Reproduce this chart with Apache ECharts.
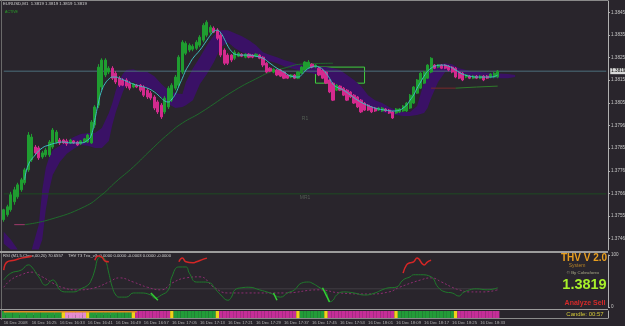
<!DOCTYPE html>
<html><head><meta charset="utf-8">
<script src="https://cdn.jsdelivr.net/npm/echarts/dist/echarts.min.js"></script>
<style>html,body{margin:0;padding:0;background:#29252c;}#c{width:625px;height:326px;}</style>
</head><body><div id="c"></div>
<script>
// ---- DATA ----
const barCount = 173; // visible bar slots (142 bars + empty right margin)
const tickLabels = ['16 Dec 2008','16 Dec 16:25','16 Dec 16:33','16 Dec 16:41','16 Dec 16:49','16 Dec 16:57','16 Dec 17:05','16 Dec 17:13','16 Dec 17:21','16 Dec 17:29','16 Dec 17:37','16 Dec 17:45','16 Dec 17:53','16 Dec 18:01','16 Dec 18:09','16 Dec 18:17','16 Dec 18:25','16 Dec 18:33'];
const priceTicks = [1.3745,1.3755,1.3765,1.3775,1.3785,1.3795,1.3805,1.3815,1.3825,1.3835,1.3845];
const priceTickLabels = ['1.3746','1.3755','1.3766','1.3776','1.3785','1.3796','1.3805','1.3815','1.3825','1.3835','1.3845'];
const currentPrice = 1.3819;
const mr1Level = 1.37648;
const r1Level = 1.37996;
const levelLabelBar = 86;
// [open, close, low, high]
const candles = [
[1.37534,1.37578,1.37525,1.37582],[1.37556,1.37591,1.37547,1.37600],[1.37578,1.37644,1.37569,1.37657],[1.37613,1.37666,1.37600,1.37679],[1.37635,1.37688,1.37626,1.37697],
[1.37666,1.37710,1.37657,1.37719],[1.37697,1.37754,1.37688,1.37763],[1.37754,1.37908,1.37745,1.37921],[1.37798,1.37899,1.37789,1.37913],[1.37855,1.37829,1.37820,1.37864],
[1.37851,1.37807,1.37798,1.37860],[1.37811,1.37829,1.37803,1.37838],[1.37820,1.37842,1.37811,1.37851],[1.37820,1.37877,1.37811,1.37886],[1.37855,1.37930,1.37847,1.37939],
[1.37877,1.37921,1.37869,1.37930],[1.37886,1.37873,1.37864,1.37895],[1.37886,1.37873,1.37869,1.37891],[1.37882,1.37869,1.37860,1.37891],[1.37873,1.37886,1.37869,1.37891],
[1.37882,1.37873,1.37869,1.37886],[1.37877,1.37864,1.37860,1.37882],[1.37869,1.37882,1.37864,1.37886],[1.37877,1.37891,1.37873,1.37895],[1.37877,1.37908,1.37873,1.37913],
[1.37873,1.37965,1.37869,1.37974],[1.37952,1.38032,1.37939,1.38040],[1.38040,1.38208,1.38027,1.38221],[1.38120,1.38239,1.38106,1.38247],[1.38173,1.38239,1.38164,1.38247],
[1.38186,1.38203,1.38177,1.38212],[1.38203,1.38159,1.38151,1.38212],[1.38181,1.38142,1.38133,1.38190],[1.38159,1.38128,1.38120,1.38168],[1.38151,1.38128,1.38124,1.38159],
[1.38151,1.38124,1.38115,1.38159],[1.38137,1.38115,1.38106,1.38146],[1.38120,1.38133,1.38115,1.38137],[1.38128,1.38120,1.38115,1.38133],[1.38128,1.38106,1.38098,1.38133],
[1.38120,1.38084,1.38076,1.38128],[1.38106,1.38076,1.38067,1.38115],[1.38093,1.38071,1.38062,1.38102],[1.38076,1.38027,1.38018,1.38084],[1.38054,1.38010,1.38001,1.38062],
[1.38040,1.37988,1.37979,1.38049],[1.38010,1.38071,1.38001,1.38080],[1.38032,1.38115,1.38023,1.38124],[1.38062,1.38128,1.38054,1.38137],[1.38115,1.38164,1.38106,1.38173],
[1.38128,1.38252,1.38120,1.38261],[1.38186,1.38318,1.38177,1.38327],[1.38269,1.38313,1.38261,1.38322],[1.38283,1.38305,1.38274,1.38313],[1.38287,1.38300,1.38278,1.38309],
[1.38291,1.38318,1.38283,1.38327],[1.38305,1.38340,1.38296,1.38349],[1.38327,1.38393,1.38318,1.38402],[1.38349,1.38406,1.38340,1.38415],[1.38362,1.38384,1.38353,1.38393],
[1.38380,1.38362,1.38358,1.38388],[1.38371,1.38335,1.38327,1.38380],[1.38349,1.38261,1.38252,1.38358],[1.38283,1.38225,1.38217,1.38291],[1.38261,1.38225,1.38217,1.38269],
[1.38261,1.38239,1.38230,1.38265],[1.38247,1.38274,1.38239,1.38283],[1.38256,1.38269,1.38252,1.38274],[1.38265,1.38256,1.38252,1.38269],[1.38252,1.38265,1.38247,1.38269],
[1.38265,1.38252,1.38247,1.38269],[1.38261,1.38252,1.38247,1.38265],[1.38256,1.38265,1.38252,1.38269],[1.38261,1.38247,1.38243,1.38265],[1.38252,1.38217,1.38208,1.38256],
[1.38225,1.38186,1.38181,1.38230],[1.38203,1.38190,1.38186,1.38208],[1.38186,1.38199,1.38181,1.38203],[1.38195,1.38173,1.38168,1.38199],[1.38195,1.38168,1.38164,1.38199],
[1.38186,1.38159,1.38155,1.38190],[1.38173,1.38159,1.38155,1.38177],[1.38164,1.38173,1.38159,1.38177],[1.38173,1.38159,1.38155,1.38177],[1.38159,1.38186,1.38155,1.38190],
[1.38181,1.38208,1.38177,1.38212],[1.38195,1.38230,1.38190,1.38234],[1.38203,1.38230,1.38199,1.38239],[1.38221,1.38208,1.38203,1.38225],[1.38208,1.38217,1.38203,1.38221],
[1.38203,1.38173,1.38168,1.38208],[1.38195,1.38159,1.38155,1.38199],[1.38186,1.38137,1.38133,1.38190],[1.38151,1.38098,1.38093,1.38155],[1.38137,1.38062,1.38058,1.38142],
[1.38106,1.38128,1.38102,1.38133],[1.38124,1.38106,1.38102,1.38128],[1.38115,1.38084,1.38080,1.38120],[1.38106,1.38062,1.38058,1.38111],[1.38098,1.38076,1.38071,1.38102],
[1.38084,1.38049,1.38045,1.38089],[1.38076,1.38032,1.38027,1.38080],[1.38062,1.38010,1.38005,1.38067],[1.38049,1.38018,1.38014,1.38054],[1.38040,1.38018,1.38014,1.38045],
[1.38032,1.38010,1.38005,1.38036],[1.38027,1.38014,1.38010,1.38032],[1.38018,1.38027,1.38014,1.38032],[1.38014,1.38027,1.38010,1.38032],[1.38023,1.38014,1.38010,1.38027],
[1.38018,1.38005,1.38001,1.38023],[1.38010,1.37983,1.37979,1.38014],[1.38005,1.38023,1.38001,1.38027],[1.38010,1.38023,1.38005,1.38027],[1.38014,1.38036,1.38010,1.38040],
[1.38014,1.38049,1.38010,1.38054],[1.38027,1.38084,1.38023,1.38089],[1.38049,1.38120,1.38045,1.38124],[1.38093,1.38151,1.38089,1.38155],[1.38115,1.38181,1.38111,1.38186],
[1.38137,1.38186,1.38133,1.38190],[1.38159,1.38217,1.38155,1.38221],[1.38186,1.38247,1.38181,1.38252],[1.38217,1.38203,1.38199,1.38221],[1.38208,1.38217,1.38203,1.38221],
[1.38217,1.38203,1.38199,1.38221],[1.38217,1.38203,1.38199,1.38221],[1.38212,1.38195,1.38190,1.38217],[1.38208,1.38186,1.38181,1.38212],[1.38203,1.38164,1.38159,1.38208],
[1.38186,1.38159,1.38155,1.38190],[1.38181,1.38151,1.38146,1.38186],[1.38164,1.38173,1.38159,1.38177],[1.38168,1.38159,1.38155,1.38173],[1.38159,1.38168,1.38155,1.38173],
[1.38168,1.38159,1.38155,1.38173],[1.38159,1.38168,1.38155,1.38173],[1.38168,1.38151,1.38146,1.38173],[1.38168,1.38159,1.38155,1.38173],[1.38164,1.38177,1.38159,1.38181],
[1.38164,1.38181,1.38159,1.38186],[1.38164,1.38190,1.38159,1.38195]
];
// fast moving average [barIndex, price]
const fastMA = [[6,1.37710],[7,1.37776],[9,1.37820],[11,1.37851],[13,1.37864],[15,1.37873],[17,1.37877],[19,1.37873],[22,1.37873],[24,1.37886],[25,1.37908],[26,1.37974],[27,1.38049],[28,1.38106],[29,1.38137],[30,1.38155],[31,1.38164],[32,1.38164],[33,1.38159],[35,1.38146],[37,1.38133],[39,1.38124],[41,1.38115],[43,1.38098],[45,1.38071],[46,1.38058],[47,1.38054],[48,1.38067],[49,1.38089],[50,1.38124],[51,1.38159],[52,1.38195],[53,1.38221],[54,1.38247],[56,1.38283],[58,1.38327],[59,1.38349],[60,1.38366],[61,1.38371],[62,1.38358],[63,1.38331],[64,1.38300],[65,1.38278],[66,1.38265],[68,1.38261],[70,1.38261],[72,1.38256],[74,1.38247],[76,1.38225],[78,1.38203],[80,1.38186],[82,1.38168],[84,1.38164],[85,1.38173],[86,1.38190],[87,1.38203],[88,1.38208],[89,1.38212],[90,1.38208],[91,1.38199],[92,1.38181],[93,1.38159],[94,1.38133],[95,1.38120],[97,1.38106],[99,1.38084],[101,1.38062],[103,1.38045],[105,1.38032],[107,1.38023],[109,1.38018],[111,1.38014],[113,1.38018],[114,1.38027],[115,1.38040],[116,1.38062],[117,1.38084],[118,1.38115],[119,1.38142],[120,1.38168],[121,1.38190],[122,1.38203],[123,1.38212],[125,1.38217],[127,1.38212],[129,1.38195],[131,1.38177],[133,1.38168],[135,1.38164],[137,1.38164],[139,1.38164],[141,1.38173]];
// slow moving average
const slowMA = [[6,1.37512],[13,1.37534],[23,1.37591],[28,1.37644],[32,1.37701],[37,1.37767],[42,1.37842],[47,1.37913],[51,1.37961],[56,1.38005],[66,1.38106],[73,1.38164],[76,1.38186],[80,1.38203],[85,1.38221],[94,1.38225]];
const slowMAStart = [[3,1.37512],[6,1.37512]];
const lowerLineRed = [[122,1.38115],[129,1.38115]];
const lowerLineGreen = [[129,1.38115],[135,1.38120],[141,1.38124]];
// cloud band
const cloudIdx = [0,2,4,8,10,11,12,13,14,16,18,20,22,24,26,28,30,31,32,33,34,35,37,39,41,43,45,47,49,51,52,54,56,58,60,62,64,66,68,70,72,74,76,78,80,82,84,86,88,90,92,94,96,98,100,102,104,106,108,110,112,114,116,118,120,121,122,124,126,128,130,132,134,136,140,144,146];
const cloudUpper = [1.37481,1.37446,1.37402,1.37402,1.37512,1.37666,1.37763,1.37811,1.37842,1.37860,1.37882,1.37899,1.37913,1.37917,1.37917,1.37939,1.38005,1.38049,1.38106,1.38151,1.38177,1.38195,1.38199,1.38186,1.38186,1.38168,1.38133,1.38106,1.38093,1.38089,1.38142,1.38203,1.38252,1.38305,1.38349,1.38371,1.38371,1.38358,1.38344,1.38327,1.38305,1.38274,1.38261,1.38252,1.38239,1.38230,1.38221,1.38212,1.38212,1.38208,1.38208,1.38203,1.38195,1.38173,1.38151,1.38124,1.38084,1.38062,1.38049,1.38032,1.38018,1.38010,1.38010,1.38036,1.38142,1.38177,1.38203,1.38217,1.38225,1.38221,1.38203,1.38195,1.38186,1.38186,1.38181,1.38177,1.38173];
const cloudLower = [1.37428,1.37402,1.37402,1.37402,1.37402,1.37446,1.37578,1.37666,1.37732,1.37789,1.37825,1.37847,1.37864,1.37860,1.37851,1.37851,1.37882,1.37952,1.38010,1.38054,1.38098,1.38133,1.38142,1.38124,1.38115,1.38106,1.38076,1.38045,1.38027,1.38032,1.38040,1.38062,1.38133,1.38177,1.38230,1.38296,1.38318,1.38291,1.38274,1.38261,1.38252,1.38243,1.38234,1.38225,1.38212,1.38203,1.38195,1.38186,1.38181,1.38173,1.38151,1.38133,1.38124,1.38106,1.38080,1.38058,1.38032,1.38018,1.38010,1.38001,1.37996,1.37992,1.37992,1.37996,1.38005,1.38027,1.38071,1.38142,1.38186,1.38186,1.38173,1.38168,1.38164,1.38159,1.38159,1.38159,1.38164];
const boxStart = 89, boxEnd = 103, boxTop = 1.38208, boxBottom = 1.38137;
// indicator window (0..100)
const oscLine = [[0,52],[2,65],[5,71],[7,81],[8,77],[10,58],[12,42],[14,52],[15,46],[16,33],[18,29],[20,29],[22,35],[24,42],[25,52],[26,71],[27,94],[28,96],[29,90],[30,65],[31,38],[32,23],[33,19],[35,19],[37,27],[39,27],[42,23],[43,17],[45,23],[47,33],[48,58],[50,77],[52,77],[53,65],[55,48],[57,48],[59,46],[60,38],[62,23],[64,13],[65,19],[66,33],[68,37],[70,38],[73,33],[76,27],[79,19],[81,27],[83,33],[85,46],[87,48],[88,46],[90,38],[92,29],[93,10],[94,13],[95,23],[97,29],[100,27],[103,23],[106,27],[108,33],[110,37],[112,38],[114,52],[116,58],[117,62],[119,62],[122,58],[124,38],[126,29],[128,27],[130,21],[131,27],[133,33],[135,35],[138,33],[141,37]];
const oscSignal = [[0,38],[2,52],[5,62],[8,67],[11,58],[14,46],[17,37],[21,33],[26,37],[30,48],[33,56],[37,48],[41,38],[45,33],[48,46],[52,56],[56,58],[60,38],[64,27],[70,27],[80,27],[90,33],[96,27],[104,25],[110,29],[113,38],[119,52],[122,56],[125,48],[128,38],[130,33],[133,29],[137,29],[141,33]];
const oscHighlights = [[[42,27],[44,13]],[[77,27],[78,13]],[[91,37],[93,10]]];
const rsiSegments = [
 [[0,71],[1,87],[3,90],[5,94],[7,96],[8,98]],
 [[26,90],[27,98],[28,96],[29,88],[30,87]],
 [[50,87],[51,94],[52,87],[54,85],[55,87],[57,92],[58,94]],
 [[114,65],[115,81],[116,85],[117,87],[118,94],[120,81],[121,87],[122,90]]
];
const oscLevel = 35;
// trend strip segments [from, to, state]
const stripSegments = [[0,16,'G'],[17,17,'Y'],[18,23,'P'],[24,24,'Y'],[25,36,'G'],[37,37,'Y'],[38,47,'M'],[48,48,'Y'],[49,60,'G'],[61,61,'Y'],[62,83,'M'],[84,84,'Y'],[85,91,'G'],[92,92,'Y'],[93,111,'M'],[112,112,'Y'],[113,128,'G'],[129,129,'Y'],[130,141,'M']];
const stripTopLine = [[0,0.9],[38,0.9]];

// ---- BUILD ----
const categories = Array.from({length: barCount}, (_, i) => String(i));
const lastSlot = barCount - 1;
const stripColor = {G:'#229c38', Y:'#f0d21a', P:'#e58bd0', M:'#c52e98'};
const stripData = [];
stripSegments.forEach(s => { for (let i = s[0]; i <= s[1]; i++) stripData.push({value:[i,1], itemStyle:{color:stripColor[s[2]]}}); });

const F = '"Liberation Sans", Arial, sans-serif';
const chart = echarts.init(document.getElementById('c'), null, {renderer:'canvas'});
const gridBase = {left:2, right:17, outerBoundsMode:'none', containLabel:false};
const xBase = {type:'category', data:categories, boundaryGap:true, axisLine:{show:false}, axisTick:{show:false}, axisLabel:{show:false}, splitLine:{show:false}};

const series = [
 { type:'custom', xAxisIndex:0, yAxisIndex:0, z:1, clip:true, silent:true,
   data:[[0, cloudLower[0]]],
   renderItem:(params, api) => {
     const pts = [];
     for (let k = 0; k < cloudIdx.length; k++) pts.push(api.coord([cloudIdx[k], cloudUpper[k]]));
     for (let k = cloudIdx.length - 1; k >= 0; k--) pts.push(api.coord([cloudIdx[k], cloudLower[k]]));
     return {type:'polygon', shape:{points:pts}, style:{fill:'#3a1166'}};
   }
 },
 // horizontal levels
 { type:'line', xAxisIndex:0, yAxisIndex:0, data:[[0,mr1Level],[lastSlot,mr1Level]], symbol:'none', z:1, silent:true, lineStyle:{color:'#1d4a22', width:1} },
 { type:'line', xAxisIndex:0, yAxisIndex:0, data:[[0,currentPrice],[lastSlot,currentPrice]], symbol:'none', z:2, silent:true, lineStyle:{color:'#4c6e7c', width:1},
   endLabel:{show:true, formatter:'1.3819', backgroundColor:'#d8d8d8', color:'#000', fontSize:4.6, fontFamily:F, padding:[1,1,0,1], distance:4} },
 { type:'scatter', xAxisIndex:0, yAxisIndex:0, symbolSize:0, z:2, silent:true,
   data:[{value:[levelLabelBar, mr1Level], label:{formatter:'MR1'}}, {value:[levelLabelBar, r1Level], label:{formatter:'R1'}}],
   label:{show:true, position:'bottom', distance:1, color:'#5d6a5d', fontSize:5, fontFamily:F} },
 { type:'line', xAxisIndex:0, yAxisIndex:0, data:slowMA, symbol:'none', smooth:true, z:2, lineStyle:{color:'#1f6b2b', width:1} },
 { type:'line', xAxisIndex:0, yAxisIndex:0, data:slowMAStart, symbol:'none', z:2, lineStyle:{color:'#a03a6a', width:1} },
 { type:'line', xAxisIndex:0, yAxisIndex:0, data:lowerLineRed, symbol:'none', z:2, lineStyle:{color:'#7a2a2a', width:1} },
 { type:'line', xAxisIndex:0, yAxisIndex:0, data:lowerLineGreen, symbol:'none', z:2, lineStyle:{color:'#2f7a2a', width:1} },
 { type:'candlestick', xAxisIndex:0, yAxisIndex:0, data:candles, barWidth:2.6, z:3,
   itemStyle:{color:'#1f9d30', color0:'#d42a8e', borderColor:'#1f9d30', borderColor0:'#d42a8e', borderWidth:1},
   markArea:{ silent:true, itemStyle:{color:'rgba(0,0,0,0)', borderColor:'#3fcf3f', borderWidth:1},
     data:[[{xAxis:boxStart, yAxis:boxTop},{xAxis:boxEnd, yAxis:boxBottom}]] }
 },
 { type:'line', xAxisIndex:0, yAxisIndex:0, data:fastMA, symbol:'none', smooth:true, z:4, lineStyle:{color:'#3dbfc0', width:1} },
 // indicator window
 { type:'line', xAxisIndex:1, yAxisIndex:1, data:[[0,oscLevel],[141,oscLevel]], symbol:'none', z:1, silent:true, lineStyle:{color:'#403c44', width:1} },
 { type:'line', xAxisIndex:1, yAxisIndex:1, data:oscSignal, symbol:'none', smooth:true, z:2, lineStyle:{color:'#8c2c70', width:1, type:[2,2]} },
 { type:'line', xAxisIndex:1, yAxisIndex:1, data:oscLine, symbol:'none', smooth:true, z:3, lineStyle:{color:'#1f7a2b', width:1} }
];
oscHighlights.forEach(seg => series.push({ type:'line', xAxisIndex:1, yAxisIndex:1, data:seg, symbol:'none', z:4, lineStyle:{color:'#33d033', width:1.5} }));
rsiSegments.forEach(seg => series.push({ type:'line', xAxisIndex:1, yAxisIndex:1, data:seg, symbol:'none', smooth:true, z:4, lineStyle:{color:'#d42626', width:1.5} }));
series.push({ type:'bar', xAxisIndex:2, yAxisIndex:2, data:stripData, barWidth:'100%', barCategoryGap:'0%', z:2 });
series.push({ type:'line', xAxisIndex:2, yAxisIndex:2, data:stripTopLine, symbol:'none', z:3, lineStyle:{color:'#e08a22', width:1.5} });

const option = {
 animation:false,
 backgroundColor:'#29252c',
 grid:[
   Object.assign({top:1, height:249}, gridBase),
   Object.assign({top:255, height:52}, gridBase),
   Object.assign({top:311, height:7}, gridBase)
 ],
 xAxis:[
   Object.assign({gridIndex:0}, xBase),
   Object.assign({gridIndex:1}, xBase),
   Object.assign({}, xBase, {gridIndex:2, axisLabel:{show:true, interval:(i)=> i % 8 === 0 && i / 8 < tickLabels.length,
     formatter:(v, i)=> tickLabels[i / 8] || '', color:'#b4b4b4', fontSize:4.2, fontFamily:F, margin:3, align:'left'}})
 ],
 yAxis:[
   {gridIndex:0, type:'value', position:'right', min:1.3740, max:1.3850, splitLine:{show:false},
    axisLine:{show:true, lineStyle:{color:'#b0b0b0', width:1}},
    axisTick:{show:true, length:2, customValues:priceTicks, lineStyle:{color:'#b0b0b0'}},
    axisLabel:{show:true, customValues:priceTicks, color:'#c8c8c8', fontSize:4.6, fontFamily:F, margin:3,
      formatter:(v)=> priceTickLabels[Math.round((v - 1.3745) / 0.001)] || ''}},
   {gridIndex:1, type:'value', position:'right', min:0, max:100, splitLine:{show:false},
    axisLine:{show:true, lineStyle:{color:'#b0b0b0', width:1}},
    axisTick:{show:true, length:2, customValues:[0,100], lineStyle:{color:'#b0b0b0'}},
    axisLabel:{show:true, customValues:[0,100], color:'#c8c8c8', fontSize:4.6, fontFamily:F, margin:3}},
   {gridIndex:2, type:'value', position:'right', min:0, max:1, splitLine:{show:false},
    axisLine:{show:true, lineStyle:{color:'#b0b0b0', width:1}}, axisTick:{show:false}, axisLabel:{show:false}}
 ],
 graphic:[
   {type:'line', shape:{x1:0, y1:0.5, x2:608, y2:0.5}, style:{stroke:'#8a8a8a', lineWidth:1}, silent:true},
   {type:'line', shape:{x1:1.5, y1:0, x2:1.5, y2:320}, style:{stroke:'#6a6a6a', lineWidth:1}, silent:true},
   {type:'line', shape:{x1:0, y1:252, x2:608, y2:252}, style:{stroke:'#9c9c9c', lineWidth:2}, silent:true},
   {type:'line', shape:{x1:0, y1:309.5, x2:608, y2:309.5}, style:{stroke:'#9c9c9c', lineWidth:1}, silent:true},
   {type:'line', shape:{x1:0, y1:318.5, x2:608, y2:318.5}, style:{stroke:'#8a8a8a', lineWidth:1}, silent:true},
   {type:'text', left:3, top:2, style:{text:'EURUSD,M1  1.3819 1.3819 1.3819 1.3819', fill:'#d2d2d2', font:'4.3px '+F}, silent:true},
   {type:'text', left:5, top:10, style:{text:'ACTIVE', fill:'#2aa02a', font:'3.6px '+F}, silent:true},
   {type:'text', left:3, top:254, style:{text:'RSI (M1,5,Close,00,20) 70.6557', fill:'#cfcfcf', font:'4.2px '+F}, silent:true},
   {type:'text', left:68, top:254, style:{text:'THV T3 Trix_v3: 0.0000 0.0000 -0.0003 0.0000 -0.0000', fill:'#cfcfcf', font:'4.2px '+F}, silent:true},
   {type:'text', x:584, y:258, style:{text:'THV V 2.0', fill:'#e89e1e', font:'bold 10px '+F, textAlign:'center', textVerticalAlign:'middle'}, silent:true},
   {type:'text', x:577, y:265.5, style:{text:'System', fill:'#b48228', font:'5px '+F, textAlign:'center', textVerticalAlign:'middle'}, silent:true},
   {type:'text', x:583, y:273, style:{text:'\u00a9 By Cobraforex', fill:'#a8a888', font:'4.4px '+F, textAlign:'center', textVerticalAlign:'middle'}, silent:true},
   {type:'text', x:584.5, y:284.5, style:{text:'1.3819', fill:'#a8f02a', font:'bold 14.5px '+F, textAlign:'center', textVerticalAlign:'middle'}, silent:true},
   {type:'text', x:585, y:303, style:{text:'Analyze Sell', fill:'#d42a2a', font:'bold 7px '+F, textAlign:'center', textVerticalAlign:'middle'}, silent:true},
   {type:'text', x:585, y:314.3, style:{text:'Candle: 00:57', fill:'#d2c83a', font:'6px '+F, textAlign:'center', textVerticalAlign:'middle'}, silent:true},
   {type:'text', left:4, top:312.2, style:{text:'THV TREND SIGNAL  SELL 1.3821  TRIX: 0.0003', fill:'#e8e8e8', font:'3.6px '+F}, silent:true},
   {type:'text', left:66, top:312.2, style:{text:'Pink zone', fill:'#ffffff', font:'3.6px '+F}, silent:true},
   {type:'text', left:92, top:312.2, style:{text:'Sell Only Active', fill:'#e8e8e8', font:'3.6px '+F}, silent:true}
 ],
 series: series
};
chart.setOption(option);
</script>
</body></html>
